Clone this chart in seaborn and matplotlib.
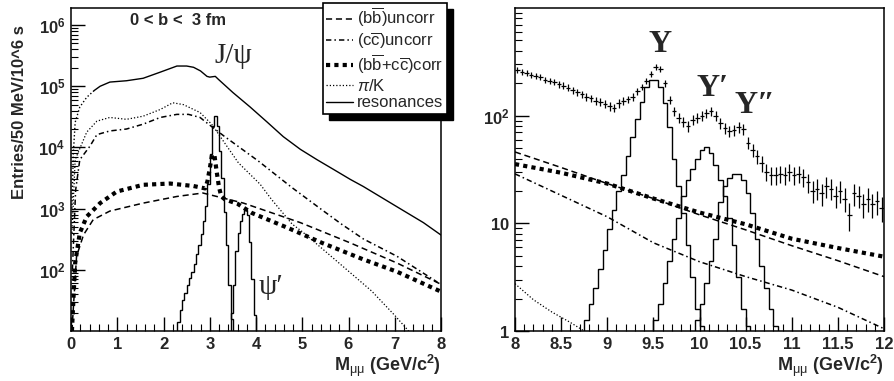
import numpy as np
import matplotlib
matplotlib.use("Agg")
import matplotlib.pyplot as plt
from matplotlib.lines import Line2D
from matplotlib.patches import Rectangle
from matplotlib.ticker import MultipleLocator, LogLocator, NullFormatter
import seaborn as sns

# ---------------- dimuon mass spectrum, 0 < b < 3 fm, low mass ----------------
total_x = [0.02, 0.05, 0.09, 0.19, 0.34, 0.5, 0.63, 0.84, 1.2, 1.56, 1.93, 2.29, 2.5,
           2.65, 2.8, 2.94, 3.0, 3.12, 3.19, 3.5, 3.87, 4.24, 4.59, 4.96, 5.32, 5.67,
           6.04, 6.32, 7.05, 7.62, 8.0]
total_y = [1000, 7900, 25700, 45700, 66000, 85000, 100000, 117000, 123000, 135000,
           170000, 214000, 214000, 204000, 178000, 145000, 141000, 145000, 129000,
           79000, 46000, 26000, 15000, 9300, 6300, 4400, 3000, 2300, 1070, 590, 370]

pik_x = [0.02, 0.09, 0.34, 0.56, 0.84, 1.2, 1.56, 1.93, 2.2, 2.43, 2.79, 3.04, 3.62,
         4.09, 4.34, 4.78, 5.0, 5.5, 6.0, 6.5, 7.0, 7.3]
pik_y = [400, 6300, 17800, 26900, 30900, 28800, 32400, 41700, 53700, 50100, 37200,
         24000, 5600, 2500, 1400, 560, 420, 200, 95, 45, 18, 10]

cc_x = [0.03, 0.1, 0.19, 0.41, 0.56, 0.84, 1.2, 1.56, 1.93, 2.29, 2.54, 2.79, 2.94,
        3.3, 4.05, 4.78, 5.43, 5.86, 6.32, 7.05, 7.92]
cc_y = [100, 2000, 6300, 10500, 16200, 18600, 20000, 24000, 30900, 34700, 34700,
        30900, 25100, 15500, 6000, 2200, 950, 550, 320, 166, 63]

bb_x = [0.02, 0.12, 0.27, 0.48, 0.84, 1.56, 2.29, 2.85, 3.73, 4.96, 6.04, 7.05, 8.0]
bb_y = [10, 166, 372, 660, 912, 1230, 1580, 1800, 1230, 590, 275, 129, 58]

corr_x = [0.02, 0.09, 0.19, 0.34, 0.63, 0.99, 1.56, 2.14, 2.65, 2.9, 2.95, 3.0, 3.05,
          3.1, 3.15, 3.2, 3.25, 3.33, 3.6, 3.91, 4.7, 5.43, 6.32, 7.05, 8.0]
corr_y = [10, 129, 400, 740, 1230, 1900, 2450, 2570, 2340, 2140, 2800, 4500, 7600,
          7600, 4000, 2240, 1580, 1410, 1200, 850, 480, 275, 148, 93, 44]

# resonance histograms (50 MeV bins)
jpsi_start = 2.30
jpsi_counts = [14, 22, 32, 42, 56, 74, 93, 126, 178, 250, 380, 630, 1120, 2500, 7900,
               22000, 33000, 22000, 8900, 3200, 890, 250, 56, 16]
psi2_start = 3.45
psi2_counts = [20, 56, 200, 400, 630, 830, 950, 800, 280, 70, 18]

# ---------------- upsilon region ----------------
hm_x = [8.0, 8.5, 9.0, 9.5, 10.0, 10.5, 11.0, 11.5, 12.0]
hm_bb = [46, 33, 23.4, 17, 12, 8.7, 6.2, 4.5, 3.2]
hm_corr = [35.5, 29.5, 23.4, 17, 12.6, 9.8, 7.2, 5.9, 4.9]
hm_cc = [28.8, 18.2, 11.5, 6.6, 4.4, 3.2, 2.4, 1.66, 1.05]
hm_pik_x = [8.0, 8.2, 8.4, 8.6, 8.75]
hm_pik_y = [2.75, 1.95, 1.5, 1.2, 1.0]

ups1_start = 8.75
ups1_counts = [1.26, 1.78, 2.5, 3.8, 5.6, 8.9, 13.2, 20, 28, 42, 63, 93, 135, 186, 214,
               214, 186, 132, 79, 40, 22, 12.6, 6.3, 3.2, 1.6, 1.12]
ups2_start = 9.50
ups2_counts = [1.26, 1.78, 2.8, 4.5, 7.1, 11.2, 17.8, 25, 32, 40, 48, 51, 45, 35, 25,
               17.8, 11.2, 6.3, 3.2, 1.6, 1.12]
ups3_start = 9.95
ups3_counts = [1.26, 1.78, 2.8, 4.5, 7.1, 15.8, 22.4, 26.3, 29, 29, 25, 19, 12.6, 7.1,
               4.0, 2.5, 1.6, 1.12]

data_counts = [265, 255, 248, 240, 232, 228, 215, 210, 205, 195, 190, 182, 172, 165, 158,
               150, 145, 138, 135, 128, 122, 118, 130, 138, 142, 150, 168, 185, 210, 245,
               285, 270, 200, 140, 110, 95, 88, 80, 92, 95, 100, 105, 110, 100, 85, 76,
               72, 74, 78, 75, 56, 48, 42, 36, 30, 28, 28, 29, 28, 30, 28, 29, 27, 24,
               20, 21, 19, 22, 21, 18, 20, 17, 12, 19, 18, 15, 17, 15, 16, 14]

BIN = 0.05

# ---------------- style ----------------
sns.set_theme(style="ticks")
plt.rcParams["font.family"] = ["Liberation Sans", "DejaVu Sans"]
plt.rcParams["mathtext.fontset"] = "custom"
plt.rcParams["mathtext.rm"] = "Liberation Sans"
plt.rcParams["mathtext.bf"] = "Liberation Sans:bold"
plt.rcParams["mathtext.it"] = "Liberation Sans:italic"
plt.rcParams["axes.linewidth"] = 1.1

K = "black"
ST_BB = (0, (4, 2.5))
ST_CC = (0, (3.5, 2, 1, 2))
ST_CORR = (0, (1, 1))
ST_PIK = (0, (1, 1.6))

fig = plt.figure(figsize=(8.94, 3.81), dpi=100)
W, H = 894.0, 381.0
axL = fig.add_axes([71 / W, 1 - 331 / H, 370 / W, 323 / H])
axR = fig.add_axes([515 / W, 1 - 331 / H, 369 / W, 323 / H])

for ax in (axL, axR):
    ax.set_yscale("log")


def stairs(ax, start, counts):
    edges = start + BIN * np.arange(len(counts) + 1)
    ax.stairs(counts, edges, baseline=1e-3, color=K, lw=1.0)


# ---- left panel ----
n_dot = 6
sns.lineplot(x=total_x[:n_dot], y=total_y[:n_dot], ax=axL, color=K, lw=1.0,
             linestyle=(0, (1, 1.6)), errorbar=None)
sns.lineplot(x=total_x[n_dot - 1:], y=total_y[n_dot - 1:], ax=axL, color=K, lw=1.0,
             errorbar=None)
sns.lineplot(x=pik_x, y=pik_y, ax=axL, color=K, lw=0.9, linestyle=ST_PIK, errorbar=None)
sns.lineplot(x=cc_x, y=cc_y, ax=axL, color=K, lw=1.1, linestyle=ST_CC, errorbar=None)
sns.lineplot(x=bb_x, y=bb_y, ax=axL, color=K, lw=1.1, linestyle=ST_BB, errorbar=None)
sns.lineplot(x=corr_x, y=corr_y, ax=axL, color=K, lw=3.0, linestyle=ST_CORR,
             errorbar=None)
stairs(axL, jpsi_start, jpsi_counts)
stairs(axL, psi2_start, psi2_counts)

axL.set_xlim(0, 8)
axL.set_ylim(10, 1.9e6)
axL.xaxis.set_major_locator(MultipleLocator(1))
axL.xaxis.set_minor_locator(MultipleLocator(0.2))
axL.set_yticks([1e2, 1e3, 1e4, 1e5, 1e6])
axL.set_yticklabels([r"$\mathbf{10^{%d}}$" % k for k in range(2, 7)])

# ---- right panel ----
sns.lineplot(x=hm_x, y=hm_bb, ax=axR, color=K, lw=1.1, linestyle=ST_BB, errorbar=None)
sns.lineplot(x=hm_x, y=hm_cc, ax=axR, color=K, lw=1.1, linestyle=ST_CC, errorbar=None)
sns.lineplot(x=hm_x, y=hm_corr, ax=axR, color=K, lw=3.0, linestyle=ST_CORR,
             errorbar=None)
sns.lineplot(x=hm_pik_x, y=hm_pik_y, ax=axR, color=K, lw=0.9, linestyle=ST_PIK,
             errorbar=None)
stairs(axR, ups1_start, ups1_counts)
stairs(axR, ups2_start, ups2_counts)
stairs(axR, ups3_start, ups3_counts)

data_arr = np.asarray(data_counts, dtype=float)
centers = 8.0 + BIN * (np.arange(len(data_arr)) + 0.5)
axR.errorbar(centers, data_arr, yerr=np.sqrt(data_arr), xerr=BIN / 2, fmt="none",
             ecolor=K, elinewidth=0.9, capsize=0)

axR.set_xlim(8, 12)
axR.set_ylim(1, 1000)
axR.xaxis.set_major_locator(MultipleLocator(0.5))
axR.xaxis.set_minor_locator(MultipleLocator(0.1))
axR.set_yticks([1, 10, 100])
axR.set_yticklabels([r"$\mathbf{1}$", r"$\mathbf{10}$", r"$\mathbf{10^{2}}$"])
axR.set_xticklabels([("%g" % v) for v in axR.get_xticks()])

for ax in (axL, axR):
    ax.yaxis.set_minor_locator(LogLocator(base=10, subs=np.arange(2, 10) * 1.0, numticks=30))
    ax.yaxis.set_minor_formatter(NullFormatter())
    ax.tick_params(which="both", direction="in", top=False, right=False, color=K)
    ax.tick_params(which="major", length=10, width=1.0, labelsize=12, pad=4)
    ax.tick_params(which="minor", length=5, width=0.8)
    for lab in ax.get_xticklabels() + ax.get_yticklabels():
        lab.set_fontweight("bold")
    for sp in ax.spines.values():
        sp.set_visible(True)
        sp.set_color(K)
    ax.set_xlabel("")
    ax.set_ylabel("")

# ---- annotations ----
axL.text(1.28, 1.2e6, "0 < b <  3 fm", fontsize=12, fontweight="bold", ha="left",
         va="center")
axL.text(3.5, 3.1e5, "J/ψ", fontsize=21, family=["Liberation Serif"], ha="center",
         va="center")
axL.text(4.33, 53, "ψ′", fontsize=21, family=["Liberation Serif"], ha="center",
         va="center")
axR.text(9.57, 460, "Υ", fontsize=23, family=["Liberation Serif"], fontweight="bold",
         ha="center", va="center")
axR.text(10.14, 177, "Υ′", fontsize=23, family=["Liberation Serif"], fontweight="bold",
         ha="center", va="center")
axR.text(10.6, 123, "Υ″", fontsize=23, family=["Liberation Serif"], fontweight="bold",
         ha="center", va="center")

fig.text(20 / W, 1 - 112 / H, "Entries/50 MeV/10^6 s", rotation=90, fontsize=12,
         fontweight="bold", ha="center", va="center")
xlab = r"$\mathbf{M}_{\mathrm{\mu\mu}}$ $\mathbf{(GeV/c^{2})}$"
fig.text(441 / W, 1 - 366 / H, xlab, fontsize=13, ha="right", va="center")
fig.text(884 / W, 1 - 366 / H, xlab, fontsize=13, ha="right", va="center")

# ---- legend with a drop shadow ----
handles = [
    Line2D([], [], color=K, lw=1.1, linestyle=ST_BB),
    Line2D([], [], color=K, lw=1.1, linestyle=ST_CC),
    Line2D([], [], color=K, lw=3.0, linestyle=ST_CORR),
    Line2D([], [], color=K, lw=0.9, linestyle=ST_PIK),
    Line2D([], [], color=K, lw=1.0),
]
labels = [
    r"(b$\overline{\mathrm{b}}$)uncorr",
    r"(c$\overline{\mathrm{c}}$)uncorr",
    r"(b$\overline{\mathrm{b}}$+c$\overline{\mathrm{c}}$)corr",
    r"$\pi$/K",
    "resonances",
]
leg = fig.legend(handles, labels, loc="upper left", bbox_to_anchor=(323 / W, 1 - 3 / H),
                 bbox_transform=fig.transFigure, frameon=True, fancybox=False,
                 framealpha=1, edgecolor=K, fontsize=12, handlelength=1.6,
                 handletextpad=0.25, labelspacing=0.1, borderpad=0.2,
                 borderaxespad=0)
leg.get_frame().set_linewidth(1.2)
leg.set_zorder(6)

fig.canvas.draw()
bb = leg.get_window_extent()
fw, fh = fig.bbox.width, fig.bbox.height
shadow = Rectangle(((bb.x0 + 6) / fw, (bb.y0 - 6) / fh), bb.width / fw, bb.height / fh,
                   transform=fig.transFigure, facecolor=K, edgecolor=K, zorder=5.5)
fig.add_artist(shadow)

fig.savefig("out.png", dpi=100)
